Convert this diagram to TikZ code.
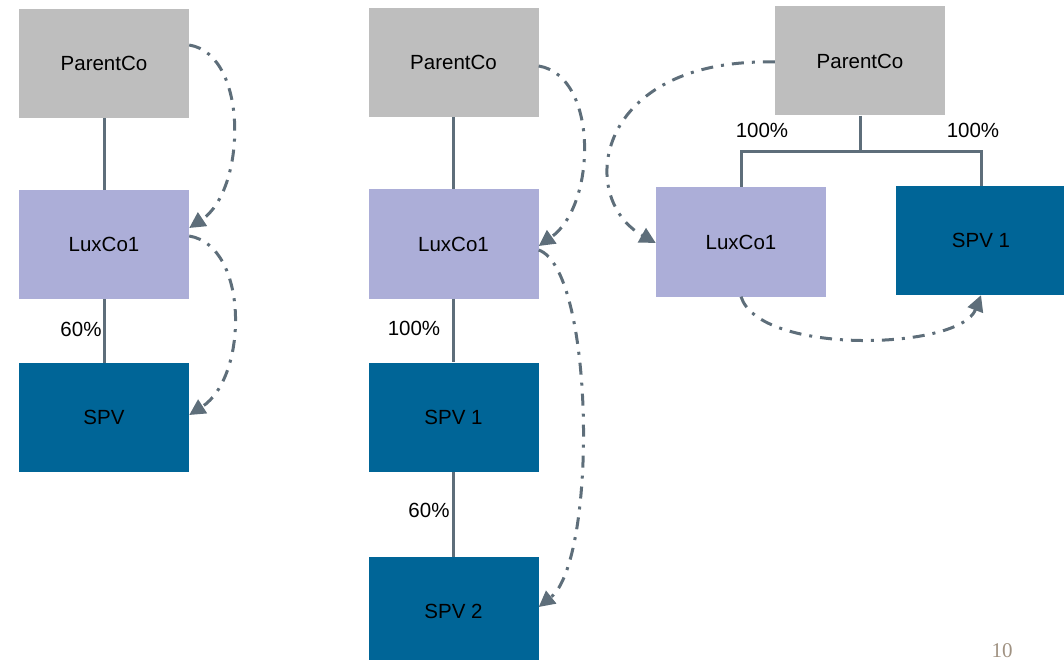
\documentclass[tikz,border=0pt]{standalone}
\usepackage{fontspec}
\setmainfont{Liberation Sans}
\newfontfamily\numfont{Liberation Serif}
\usetikzlibrary{arrows.meta}
\definecolor{parentgrey}{HTML}{BEBEBE}
\definecolor{luxlilac}{HTML}{ACAED8}
\definecolor{spvblue}{HTML}{006597}
\definecolor{linkgrey}{HTML}{5E6E7A}
\definecolor{pagenum}{HTML}{A09282}
\tikzset{
  entity/.style={minimum width=170pt, minimum height=109pt, inner sep=0pt,
    font=\fontsize{20.5}{24}\selectfont, text=black},
  parentbox/.style={entity, fill=parentgrey},
  luxbox/.style={entity, fill=luxlilac},
  spvbox/.style={entity, fill=spvblue},
  own/.style={draw=linkgrey, line width=3pt},
  share/.style={font=\fontsize{20.5}{24}\selectfont, inner sep=0pt},
  flow/.style={draw=linkgrey, line width=3pt,
    dash pattern=on 12pt off 8pt on 3pt off 8pt,
    -{Triangle[length=16pt,width=16pt]}}
}
\begin{document}
\begin{tikzpicture}[x=1pt,y=-1pt]
\useasboundingbox (0,0) rectangle (1064,660);

% left structure: ParentCo, LuxCo1, SPV
\node[parentbox] (lpc)  at (104,63.5)  {ParentCo};
\node[luxbox]    (llux) at (104,244.5) {LuxCo1};
\node[spvbox]    (lspv) at (104,417.5) {SPV};
\draw[own] (lpc.south) -- (llux.north);
\draw[own] (llux.south) -- (lspv.north);
\node[share] (lpct) at (81,329) {60\%};

\draw[flow] ([yshift=18.5pt]lpc.east) .. controls +(60,10) and +(57,-38) .. ([yshift=16.5pt]llux.east);
\draw[flow] ([yshift=8.5pt]llux.east) .. controls +(60,10) and +(59,-38) .. ([yshift=2.5pt]lspv.east);

% middle structure: ParentCo, LuxCo1, SPV 1, SPV 2
\node[parentbox] (mpc)   at (453.5,62.5)  {ParentCo};
\node[luxbox]    (mlux)  at (453.5,244)   {LuxCo1};
\node[spvbox]    (mspv1) at (453.5,417)   {SPV 1};
\node[spvbox]    (mspv2) at (453.5,611.5) {SPV 2};
\draw[own] (mpc.south) -- (mlux.north);
\draw[own] (mlux.south) -- (mspv1.north);
\draw[own] (mspv1.south) -- (mspv2.north);
\node[share] (mpcta) at (414,328) {100\%};
\node[share] (mpctb) at (429,510) {60\%};

\draw[flow] ([yshift=-3.5pt]mpc.east) .. controls +(60,10) and +(58,-41) .. ([yshift=-2pt]mlux.east);
\draw[flow] ([yshift=-6pt]mlux.east) .. controls +(56,20) and +(59,-47) .. ([yshift=4.5pt]mspv2.east);

% right structure: ParentCo owns LuxCo1 and SPV 1
\node[parentbox] (rpc)  at (860,61)    {ParentCo};
\node[luxbox]    (rlux) at (741,242)   {LuxCo1};
\node[spvbox]    (rspv) at (981,240.5) {SPV 1};
\coordinate (rj) at ([yshift=-36pt]rpc.south);
\draw[own] (rpc.south) -- (rj);
\draw[own] (rj) -| (rlux.north);
\draw[own] (rj) -| (rspv.north);
\node[share] (rpcta) at (762,130) {100\%};
\node[share] (rpctb) at (973,130) {100\%};

\draw[flow] ([yshift=-1pt]rpc.west) .. controls +(-181,-4) and +(-80,-45) .. ([yshift=-1pt]rlux.west);
\draw[flow] (rlux.south) .. controls +(19,59) and +(-21,55) .. (rspv.south);

% page number
\node[font=\numfont\fontsize{21}{23}\selectfont, text=pagenum, inner sep=0pt] (pg) at (1002,650.5) {10};
\end{tikzpicture}
\end{document}
